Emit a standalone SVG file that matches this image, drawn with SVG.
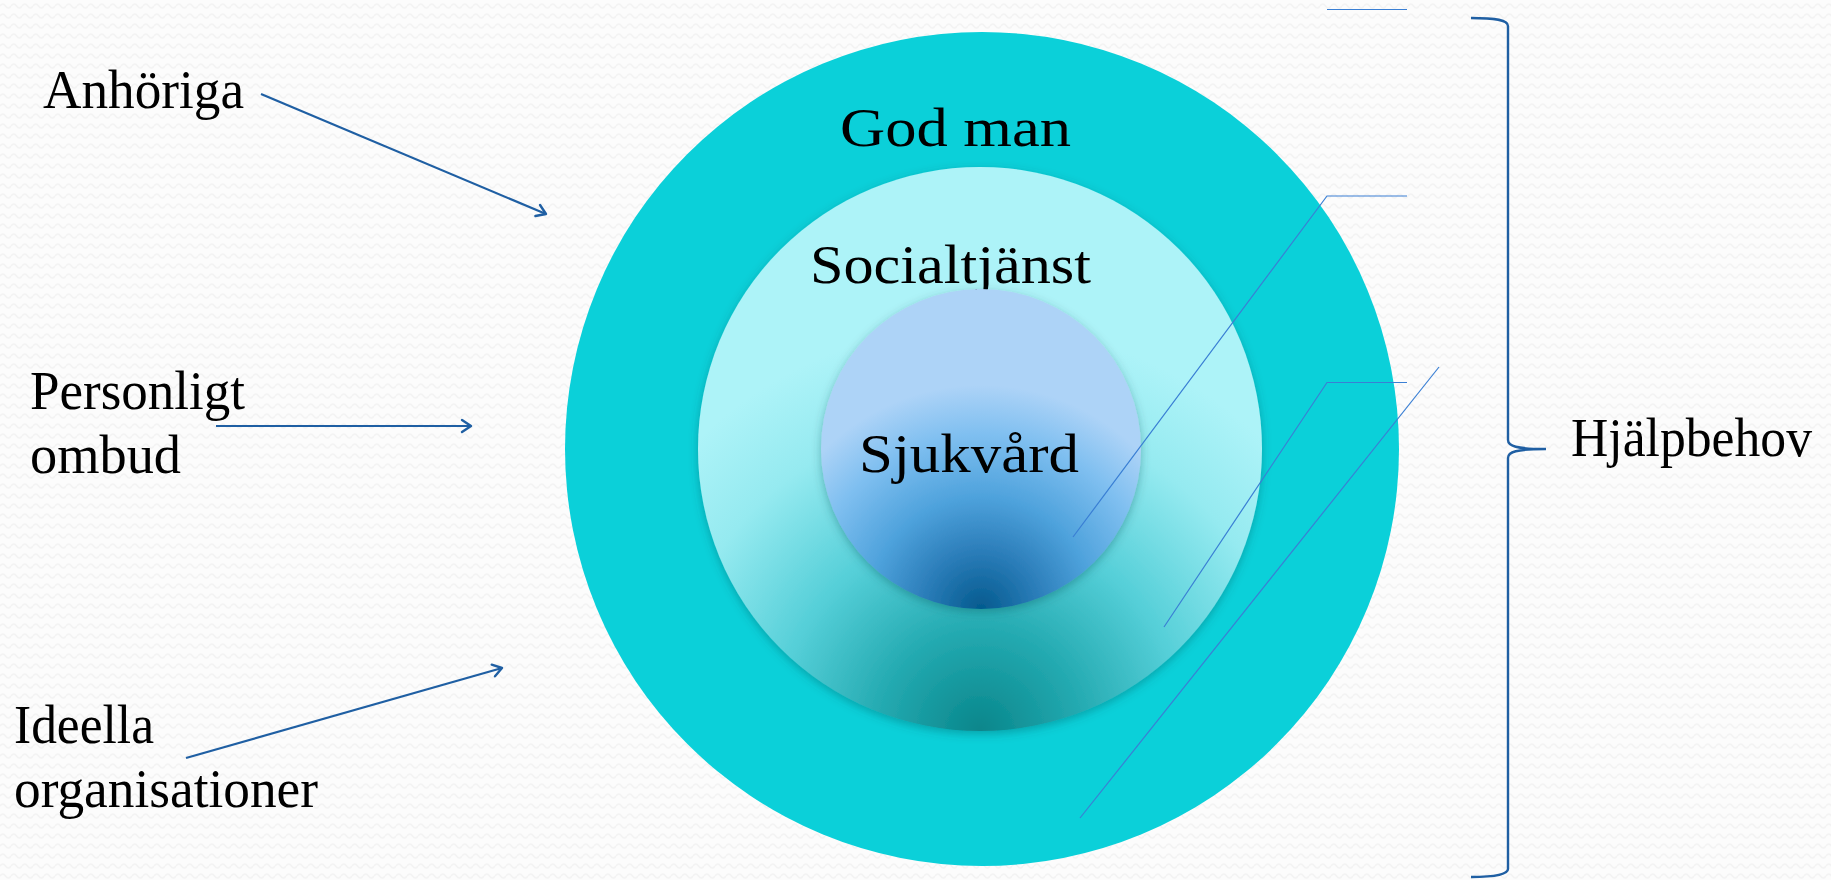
<svg xmlns="http://www.w3.org/2000/svg" width="1831" height="880" viewBox="0 0 1831 880">
  <defs>
    <pattern id="bgp" x="0" y="0" width="11" height="10" patternUnits="userSpaceOnUse">
      <rect width="11" height="10" fill="#fcfcfc"/>
      <path d="M0,6 Q2.75,2 5.5,6 T11,6" fill="none" stroke="#f3f3f3" stroke-width="1.4"/>
    </pattern>
    <radialGradient id="gMid" cx="0.5" cy="1" r="0.72" fx="0.5" fy="1">
      <stop offset="0" stop-color="#08868b"/>
      <stop offset="0.25" stop-color="#24aab1"/>
      <stop offset="0.5" stop-color="#55cfd8"/>
      <stop offset="0.78" stop-color="#95eaf0"/>
      <stop offset="1" stop-color="#adf3f8"/>
    </radialGradient>
    <radialGradient id="gIn" cx="0.5" cy="1" r="0.7" fx="0.5" fy="1">
      <stop offset="0" stop-color="#035a8e"/>
      <stop offset="0.25" stop-color="#2a7cb8"/>
      <stop offset="0.5" stop-color="#4ea2dc"/>
      <stop offset="0.78" stop-color="#7fbff0"/>
      <stop offset="1" stop-color="#add3f7"/>
    </radialGradient>
    <filter id="sh" x="-10%" y="-10%" width="120%" height="125%">
      <feDropShadow dx="0" dy="3" stdDeviation="5" flood-color="#004a50" flood-opacity="0.35"/>
    </filter>
    <marker id="arr" markerWidth="16" markerHeight="16" refX="13" refY="8" orient="auto" markerUnits="userSpaceOnUse">
      <path d="M4,2 L13,8 L4,14" fill="none" stroke="#1f5fa3" stroke-width="2.4" stroke-linecap="round" stroke-linejoin="round"/>
    </marker>
    <style>
      .t { font-family: "Liberation Serif", "Times New Roman", serif; font-size: 54px; fill: #000; }
      .arrow { stroke: #1f5fa3; stroke-width: 2.2; fill: none; marker-end: url(#arr); }
      .call { stroke: #3a7fd4; stroke-width: 1.2; fill: none; }
      .brace { stroke: #1f5fa3; stroke-width: 2.4; fill: none; }
    </style>
  </defs>
  <rect width="1831" height="880" fill="url(#bgp)"/>

  <g id="node-godman">
    <circle cx="982" cy="449" r="417" fill="#0bd0d9"/>
    <text class="t" x="840" y="146" textLength="231" lengthAdjust="spacingAndGlyphs">God man</text>
  </g>
  <g id="node-socialtjanst">
    <circle cx="980" cy="449" r="282" fill="url(#gMid)" filter="url(#sh)"/>
    <text class="t" x="810" y="283" textLength="281" lengthAdjust="spacingAndGlyphs">Socialtjänst</text>
  </g>
  <g id="node-sjukvard">
    <circle cx="981" cy="449" r="160" fill="url(#gIn)" filter="url(#sh)"/>
    <text class="t" x="859" y="472" textLength="220" lengthAdjust="spacingAndGlyphs">Sjukvård</text>
  </g>

  <g id="node-anhoriga">
    <text class="t" x="43" y="108" textLength="201" lengthAdjust="spacingAndGlyphs">Anhöriga</text>
  </g>
  <g id="node-personligt">
    <text class="t" x="30" y="409" textLength="215" lengthAdjust="spacingAndGlyphs">Personligt</text>
    <text class="t" x="30" y="473" textLength="151" lengthAdjust="spacingAndGlyphs">ombud</text>
  </g>
  <g id="node-ideella">
    <text class="t" x="14" y="743" textLength="140" lengthAdjust="spacingAndGlyphs">Ideella</text>
    <text class="t" x="14" y="807" textLength="304" lengthAdjust="spacingAndGlyphs">organisationer</text>
  </g>
  <g id="node-hjalpbehov">
    <text class="t" x="1571" y="456" textLength="241" lengthAdjust="spacingAndGlyphs">Hjälpbehov</text>
  </g>

  <g id="connectors">
    <line class="arrow" x1="261" y1="94" x2="546" y2="214"/>
    <line class="arrow" x1="216" y1="426" x2="471" y2="426"/>
    <line class="arrow" x1="186" y1="758" x2="502" y2="668"/>

    <line class="call" x1="1327" y1="9.5" x2="1407" y2="9.5"/>
    <polyline class="call" points="1407,196 1327,196 1073,537"/>
    <polyline class="call" points="1407,382.5 1327,382.5 1164,627"/>
    <line class="call" x1="1439" y1="367" x2="1080" y2="818"/>

    <path class="brace" d="M1471,18 C1496,18 1508,20 1508,26 L1508,440 C1508,446 1516,449 1546,449 C1516,449 1508,452 1508,458 L1508,869 C1508,874 1496,877 1471,877"/>
  </g>
</svg>
